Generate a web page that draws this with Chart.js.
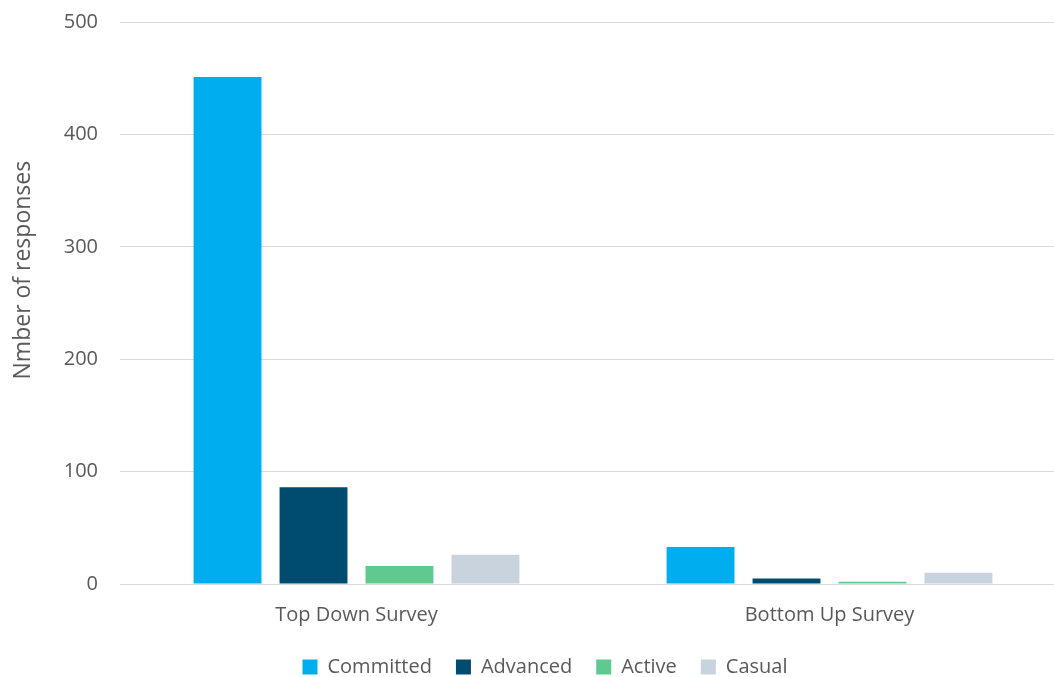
<!DOCTYPE html>
<html>
<head>
<meta charset="utf-8">
<script src="https://cdn.jsdelivr.net/npm/chart.js@4.4.0/dist/chart.umd.min.js"></script>
<style>
  html, body { margin: 0; padding: 0; background: #fff; overflow: hidden; }
  #wrap { width: 1066px; height: 699px; position: relative; margin-top: -12px; }
</style>
</head>
<body>
<div id="wrap"><canvas id="chart"></canvas></div>
<script>
// данные графика
const categories = ["Top Down Survey", "Bottom Up Survey"];
const committed = [451, 33];
const advanced = [86, 5];
const active = [16, 2];
const casual = [26, 10];
const yTicks = [0, 100, 200, 300, 400, 500];

const seriesNames = ["Committed", "Advanced", "Active", "Casual"];
const seriesColors = ["#00aeef", "#004c70", "#5fc98f", "#c9d3de"];
const seriesData = [committed, advanced, active, casual];

const textColor = "#595959";
const fontFamily = "'Open Sans', 'Liberation Sans', sans-serif";

// сдвиг легенды вправо, как в оригинале
const legendShift = {
  id: "legendShift",
  afterLayout(chart) {
    const lg = chart.legend;
    if (!lg) return;
    lg.left += 12;
    lg.right += 12;
  },
};

const ctx = document.getElementById("chart").getContext("2d");
new Chart(ctx, {
  type: "bar",
  data: {
    labels: categories,
    datasets: seriesNames.map((name, i) => ({
      label: name,
      data: seriesData[i],
      backgroundColor: seriesColors[i],
      borderWidth: 0,
      categoryPercentage: 0.727,
      barPercentage: 0.79,
    })),
  },
  plugins: [legendShift],
  options: {
    responsive: true,
    maintainAspectRatio: false,
    animation: false,
    layout: { padding: { top: 2, right: 0, left: 0, bottom: 0 } },
    plugins: {
      legend: {
        position: "bottom",
        labels: {
          color: textColor,
          font: { family: fontFamily, size: 20 },
          boxWidth: 15,
          boxHeight: 15,
          padding: 24,
        },
      },
      tooltip: { enabled: false },
    },
    scales: {
      x: {
        afterFit: (scale) => {
          scale.height = 49;
        },
        grid: { display: false, drawTicks: false },
        border: { color: "#d9d9d9", width: 1 },
        ticks: {
          color: textColor,
          font: { family: fontFamily, size: 20, lineHeight: 0.01 },
          padding: 31,
        },
      },
      y: {
        min: 0,
        max: 500,
        afterBuildTicks: (scale) => {
          scale.ticks = yTicks.map((v) => ({ value: v }));
        },
        afterFit: (scale) => {
          scale.width = 120;
        },
        grid: { color: "#d9d9d9", drawTicks: false },
        border: { display: false },
        ticks: {
          color: textColor,
          font: { family: fontFamily, size: 20 },
          padding: 22,
        },
        title: {
          display: true,
          // пробелы в начале сдвигают подпись вверх, как в оригинале
          text: "           Nmber of responses",
          color: textColor,
          font: { family: fontFamily, size: 23 },
          padding: { top: 10, bottom: 0 },
        },
      },
    },
  },
});
</script>
</body>
</html>
